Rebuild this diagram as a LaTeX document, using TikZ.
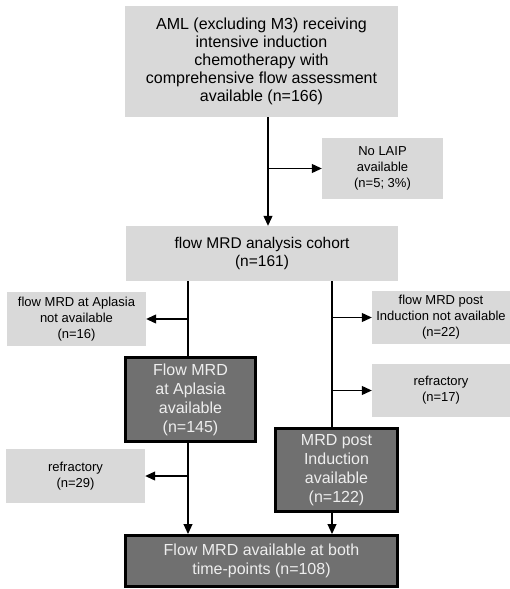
\documentclass[tikz,border=0pt]{standalone}
\usepackage{fontspec}
\setmainfont{Liberation Sans}
\usetikzlibrary{arrows.meta}

\definecolor{boxgray}{HTML}{D9D9D9}
\definecolor{darkfill}{HTML}{707070}
\definecolor{textlight}{HTML}{EEEEEE}

\tikzset{
  lbox/.style={fill=boxgray, inner sep=0pt, align=center, font=\fontsize{13}{16}\selectfont},
  dbox/.style={fill=darkfill, draw=black, line width=3pt, text=textlight, inner sep=0pt, align=center, font=\fontsize{16}{19}\selectfont},
  arr/.style={line width=1.1pt, -{Triangle[length=10pt,width=9pt]}},
  trunk/.style={line width=1.1pt},
}

\begin{document}
\begin{tikzpicture}[x=1pt, y=-1pt]
    \useasboundingbox (0,0) rectangle (510,589);
    % 上の箱
    \node[lbox, minimum width=273pt, minimum height=111pt, font=\fontsize{16}{18}\selectfont] (top) at (261.5,61.5)
        {AML (excluding M3) receiving\\ intensive induction\\ chemotherapy with\\ comprehensive flow assessment\\ available (n=166)};
    \node[lbox, minimum width=121pt, minimum height=61pt] (nolaip) at (382.5,168.5) {No LAIP\\ available\\ (n=5; 3\%)};
    \node[lbox, minimum width=272pt, minimum height=55pt, font=\fontsize{15.5}{18}\selectfont] (cohort) at (262,253.5)
        {flow MRD analysis cohort\\ (n=161)};
    % 左の列
    \node[lbox, minimum width=139pt, minimum height=54pt] (lna) at (76.5,319) {flow MRD at Aplasia\\ not available\\ (n=16)};
    \node[dbox, minimum width=130pt, minimum height=84pt] (apl) at (190.5,399.5) {Flow MRD\\ at Aplasia\\ available\\ (n=145)};
    \node[lbox, minimum width=139pt, minimum height=54pt] (lref) at (75.5,476) {refractory\\ (n=29)};
    % 右の列
    \node[lbox, minimum width=138pt, minimum height=53pt] (rna) at (441,317.5) {flow MRD post\\ Induction not available\\ (n=22)};
    \node[lbox, minimum width=138pt, minimum height=53pt] (rref) at (441,390.5) {refractory\\ (n=17)};
    \node[dbox, minimum width=122pt, minimum height=83pt] (ind) at (336.5,470) {MRD post\\ Induction\\ available\\ (n=122)};
    % 下の箱
    \node[dbox, minimum width=272pt, minimum height=51pt, font=\fontsize{16}{18.5}\selectfont] (both) at (261.5,561)
        {Flow MRD available at both\\ time-points (n=108)};

    % 矢印
    \path (top.south) ++(6.5,0) coordinate (t0);
    \draw[arr] (t0) -- (t0 |- cohort.north);
    \draw[arr] (t0 |- nolaip.west) -- (nolaip.west);

    \path (cohort.south) ++(-74,0) coordinate (l0);
    \draw[trunk] (l0) -- (l0 |- apl.north);
    \draw[arr] (l0 |- lna.east) -- (lna.east);
    \path (apl.south) ++(-2.5,0) coordinate (l1);
    \draw[arr] (l1) -- (l1 |- both.north);
    \draw[arr] (l1 |- lref.east) -- (lref.east);

    \path (cohort.south) ++(70,0) coordinate (r0);
    \draw[trunk] (r0) -- (r0 |- ind.north);
    \draw[arr] (r0 |- rna.west) -- (rna.west);
    \draw[arr] (r0 |- rref.west) -- (rref.west);
    \path (ind.south) ++(-4.5,0) coordinate (r1);
    \draw[arr] (r1) -- (r1 |- both.north);
\end{tikzpicture}
\end{document}
